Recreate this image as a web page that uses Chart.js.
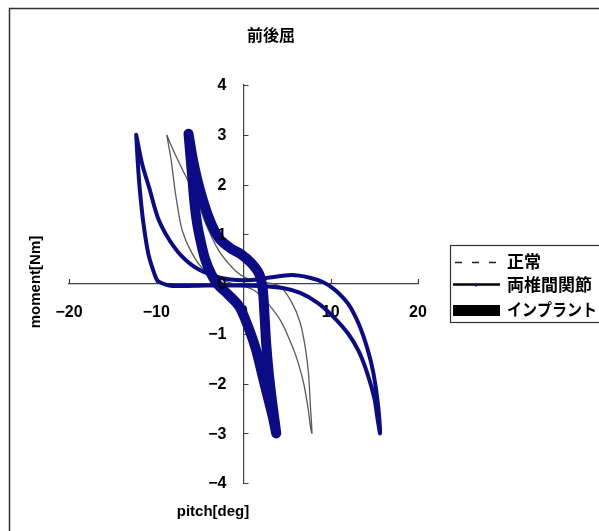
<!DOCTYPE html>
<html>
<head>
<meta charset="utf-8">
<script src="https://cdn.jsdelivr.net/npm/chart.js@4"></script>
<style>
  html, body { margin:0; padding:0; background:#fff; overflow:hidden; }
  #wrap { position:absolute; left:0; top:0; width:599px; height:531px; }
</style>
</head>
<body>
<div id="wrap"><canvas id="chart" width="599" height="531"></canvas></div>
<script>
// ── DATA (pitch [deg] / moment [Nm]) ───────────────────────────────
const SERIES_NAMES = ['正常', '両椎間関節', 'インプラント'];

const X_TICKS = [-20, -10, 0, 10, 20];
const Y_TICKS = [-4, -3, -2, -1, 0, 1, 2, 3, 4];

// 正常
const NORMAL_PITCH  = [-8.8, -8.2, -7.0, -5.6, -4.3, -2.8, -0.9, 0.3, 2.0, 4.1, 5.5, 6.5, 7.1, 7.45, 7.65, 7.85,
                       7.7, 7.4, 6.9, 6.3, 5.7, 4.3, 2.7, 1.4, 0.0, -1.8, -3.0, -4.5, -5.85, -7.0, -7.6, -7.9, -8.3, -8.8];
const NORMAL_MOMENT = [3.0, 2.75, 2.3, 1.8, 1.2, 0.66, 0.26, 0.12, 0.04, -0.04, -0.36, -0.78, -1.3, -1.8, -2.4, -3.0,
                       -2.9, -2.5, -2.0, -1.6, -1.3, -0.75, -0.37, -0.15, -0.04, 0.04, 0.14, 0.28, 0.6, 1.06, 1.6, 1.95, 2.5, 3.0];

// 両椎間関節
const FACET_PITCH  = [-12.3, -11.6, -10.8, -9.7, -7.9, -6.0, -3.8, -1.5, 1.0, 3.0, 5.5, 7.5, 9.2, 10.5, 12.0, 13.2, 14.2, 14.9, 15.4, 15.65,
                      15.4, 15.0, 14.2, 13.2, 12.0, 10.3, 8.5, 6.5, 4.5, 2.0, -1.0, -4.3, -7.0, -8.5, -9.8, -10.2, -10.9, -11.5, -11.9, -12.1, -12.3];
const FACET_MOMENT = [3.0, 2.4, 1.93, 1.28, 0.73, 0.39, 0.19, 0.09, 0.08, 0.13, 0.18, 0.13, 0.03, -0.12, -0.4, -0.8, -1.3, -1.8, -2.4, -3.0,
                      -2.75, -2.3, -1.8, -1.35, -1.0, -0.66, -0.38, -0.18, -0.08, -0.04, -0.03, -0.03, -0.04, -0.03, 0.06, 0.2, 0.6, 1.26, 1.93, 2.4, 3.0];

// インプラント
const IMPLANT_PITCH  = [-6.3, -5.8, -5.0, -3.9, -2.8, -1.5, -0.3, 0.9, 1.8, 2.2, 2.4, 2.6, 2.9, 3.3, 3.75,
                        3.4, 2.4, 1.4, 0.4, -0.5, -1.7, -3.0, -3.7, -4.4, -4.9, -5.3, -5.6, -5.85, -6.1, -6.3];
const IMPLANT_MOMENT = [3.02, 2.5, 1.9, 1.3, 0.92, 0.72, 0.6, 0.42, 0.2, -0.1, -0.6, -1.2, -1.8, -2.4, -3.0,
                        -2.7, -2.0, -1.3, -0.8, -0.45, -0.22, 0.0, 0.2, 0.5, 0.85, 1.2, 1.6, 2.1, 2.6, 3.02];

const toPoints = (xs, ys) => xs.map((x, i) => ({ x, y: ys[i] }));

const NAVY = '#0b0b85';
const TICK_FONT = { family: 'Liberation Sans, Arial, sans-serif', size: 16, weight: 'bold' };
const minusSign = v => String(v).replace('-', '\u2212');

// ── DECOR: frame, title, axis names, inside ticks, y labels, legend ─
const decor = {
  id: 'decor',
  beforeDraw(chart) {
    const { ctx, width, height } = chart;
    ctx.save();
    ctx.fillStyle = '#fff';
    ctx.fillRect(0, 0, width, height);
    ctx.restore();
  },
  beforeDatasetsDraw(chart) {
    const { ctx, scales: { x, y } } = chart;
    const x0 = x.getPixelForValue(0);
    const y0 = y.getPixelForValue(0);
    ctx.save();
    ctx.strokeStyle = '#404040';
    ctx.lineWidth = 1.2;
    ctx.beginPath();
    X_TICKS.forEach(v => {
      const px = Math.round(x.getPixelForValue(v)) + 0.5;
      ctx.moveTo(px, y0); ctx.lineTo(px, y0 - 5);
    });
    Y_TICKS.forEach(v => {
      const py = Math.round(y.getPixelForValue(v)) + 0.5;
      ctx.moveTo(x0, py); ctx.lineTo(x0 + 5, py);
    });
    ctx.stroke();
    ctx.restore();
  },
  afterDraw(chart) {
    const { ctx, scales: { x, y } } = chart;
    ctx.save();

    // y tick labels, left of the crossing axis
    const x0 = x.getPixelForValue(0);
    ctx.fillStyle = '#000';
    ctx.textAlign = 'right';
    ctx.textBaseline = 'middle';
    ctx.font = `bold ${TICK_FONT.size}px ${TICK_FONT.family}`;
    Y_TICKS.forEach(v => ctx.fillText(minusSign(v), x0 - 17, y.getPixelForValue(v) + 1));

    // outer frame (cut off at right / bottom)
    ctx.strokeStyle = '#333';
    ctx.lineWidth = 1.5;
    ctx.beginPath();
    ctx.moveTo(9.5, 540); ctx.lineTo(9.5, 8.5); ctx.lineTo(610, 8.5);
    ctx.stroke();

    // title
    ctx.textAlign = 'center';
    ctx.font = 'bold 16px "Noto Sans CJK JP", sans-serif';
    ctx.fillText('前後屈', 271, 35);

    // axis names
    ctx.font = 'bold 15px "Liberation Sans", Arial, sans-serif';
    ctx.fillText('pitch[deg]', 213, 512);
    ctx.save();
    ctx.translate(35.5, 282);
    ctx.rotate(-Math.PI / 2);
    ctx.fillText('moment[Nm]', 0, 0);
    ctx.restore();

    // legend
    ctx.strokeStyle = '#333';
    ctx.lineWidth = 1.2;
    ctx.strokeRect(450.5, 245.5, 170, 77);

    ctx.strokeStyle = '#222';
    ctx.lineWidth = 1.5;
    ctx.setLineDash([7, 10]);
    ctx.beginPath(); ctx.moveTo(455, 262.5); ctx.lineTo(497, 262.5); ctx.stroke();
    ctx.setLineDash([]);

    ctx.strokeStyle = '#000';
    ctx.lineWidth = 2.5;
    ctx.beginPath(); ctx.moveTo(453, 284.5); ctx.lineTo(500, 284.5); ctx.stroke();
    ctx.fillStyle = NAVY;
    ctx.beginPath(); ctx.arc(476, 285, 1.5, 0, Math.PI * 2); ctx.fill();

    ctx.fillStyle = '#000';
    ctx.fillRect(453, 305, 47, 11);

    ctx.textAlign = 'left';
    ctx.font = 'bold 17px "Noto Sans CJK JP", sans-serif';
    [262, 285, 310].forEach((ty, i) => ctx.fillText(SERIES_NAMES[i], 507, ty, 90));

    ctx.restore();
  }
};

// ── CHART ──────────────────────────────────────────────────────────
const axisStyle = {
  grid: { display: true, drawOnChartArea: false, drawTicks: false },
  border: { display: true, color: '#404040', width: 1.2 },
};

new Chart(document.getElementById('chart').getContext('2d'), {
  type: 'scatter',
  data: {
    datasets: [
      {
        label: SERIES_NAMES[0],
        data: toPoints(NORMAL_PITCH, NORMAL_MOMENT),
        showLine: true, borderColor: '#5a5a5a', borderWidth: 1.3,
        pointRadius: 0, tension: 0.3, order: 3,
      },
      {
        label: SERIES_NAMES[1],
        data: toPoints(FACET_PITCH, FACET_MOMENT),
        showLine: true, borderColor: NAVY, borderWidth: 4,
        borderJoinStyle: 'round', borderCapStyle: 'round',
        pointRadius: 0, tension: 0.3, order: 2,
      },
      {
        label: SERIES_NAMES[2],
        data: toPoints(IMPLANT_PITCH, IMPLANT_MOMENT),
        showLine: true, borderColor: NAVY, borderWidth: 10,
        borderJoinStyle: 'round', borderCapStyle: 'round',
        pointRadius: 0, tension: 0.3, order: 1,
      },
    ]
  },
  options: {
    responsive: false,
    animation: false,
    devicePixelRatio: 1,
    layout: { padding: { left: 69, right: 181, top: 85, bottom: 48 } },
    plugins: { legend: { display: false }, title: { display: false }, tooltip: { enabled: false } },
    scales: {
      x: {
        ...axisStyle,
        z: 1,
        type: 'linear', position: { y: 0 }, min: -20, max: 20,
        ticks: { stepSize: 10, padding: 19, color: '#000', font: TICK_FONT, callback: minusSign },
      },
      y: {
        ...axisStyle,
        type: 'linear', position: { x: 0 }, min: -4, max: 4,
        ticks: { display: false, stepSize: 1 },
      },
    }
  },
  plugins: [decor]
});
</script>
</body>
</html>
